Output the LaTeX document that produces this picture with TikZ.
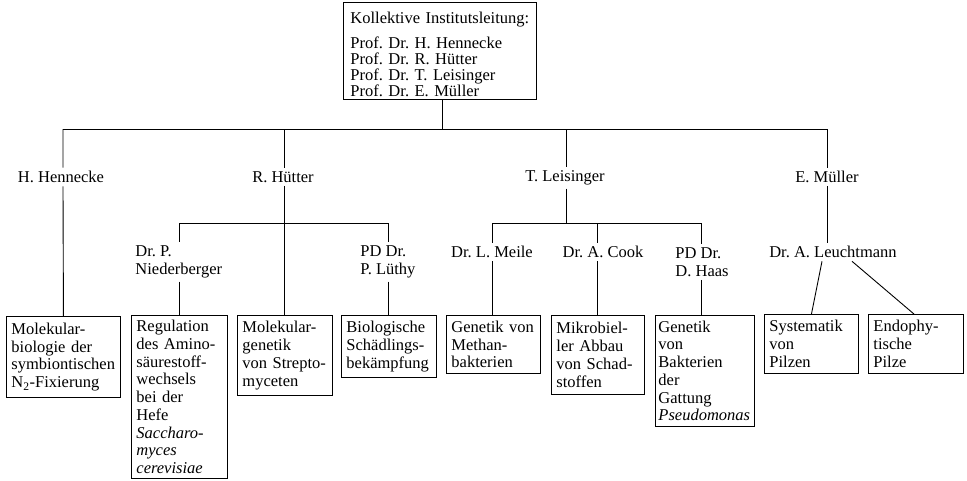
\documentclass[tikz,border=0pt]{standalone}
\usepackage{fontspec}
\setmainfont{Liberation Serif}
\frenchspacing
\begin{document}
\begin{tikzpicture}[x=1pt,y=-1pt,line width=0.9pt,
  every node/.style={font=\fontsize{16.5}{17.75}\selectfont},
  box/.style={draw,anchor=north west,inner xsep=5pt,inner ysep=3pt,align=left,
    execute at begin node={\frenchspacing\hyphenpenalty=10000\exhyphenpenalty=10000}},
  lbl/.style={inner sep=3pt,execute at begin node={\frenchspacing}},
  lbll/.style={inner sep=3pt,align=left,anchor=west,execute at begin node={\frenchspacing}}]
\useasboundingbox (0,0) rectangle (967,480);
% top box
\node[box,inner xsep=7pt,text width=179pt,minimum height=96pt,
  font=\fontsize{16.5}{16}\selectfont] (top) at (343,2)
  {\rule{0pt}{18pt}Kollektive Institutsleitung:\\[9pt]
   Prof. Dr. H. Hennecke\\
   Prof. Dr. R. Hütter\\
   Prof. Dr. T. Leisinger\\
   Prof. Dr. E. Müller};
% bottom boxes
\node[box,text width=104pt,minimum height=81pt] (b1) at (6,316)
  {Molekular-\\biologie der\\symbiontischen\\N\textsubscript{2}-Fixierung};
\node[box,text width=86pt,minimum height=163pt] (b2) at (131,315)
  {Regulation\\des Amino-\\säurestoff-\\wechsels\\bei der\\Hefe\\\textit{Saccharo-}\\\textit{myces}\\\textit{cerevisiae}};
\node[box,text width=85pt,minimum height=80pt] (b3) at (237,315)
  {Molekular-\\genetik\\von Strepto-\\myceten};
\node[box,text width=85pt,minimum height=62pt] (b4) at (341,315)
  {Biologische\\Schädlings-\\bekämpfung};
\node[box,text width=84pt,minimum height=58pt] (b5) at (446,315)
  {Genetik von\\Methan-\\bakterien};
\node[box,text width=83pt,minimum height=79pt] (b6) at (551,315)
  {Mikrobiel-\\ler Abbau\\von Schad-\\stoffen};
\node[box,inner xsep=3pt,text width=93pt,minimum height=111pt] (b7) at (655,315)
  {Genetik\\von\\Bakterien\\der\\Gattung\\\textit{Pseudomonas}};
\node[box,text width=84pt,minimum height=59pt] (b8) at (764,314)
  {Systematik\\von\\Pilzen};
\node[box,text width=85pt,minimum height=59pt] (b9) at (868,314)
  {Endophy-\\tische\\Pilze};
% labels
\node[lbl] (hen) at (61,177) {H. Hennecke};
\node[lbl] (hue) at (283,177) {R. Hütter};
\node[lbl] (lei) at (565,178) {T. Leisinger};
\node[lbl] (mue) at (827,177) {E. Müller};
\node[lbll] (nie) at (132,262) {Dr. P.\\Niederberger};
\node[lbll] (lue) at (357,262) {PD Dr.\\P. Lüthy};
\node[lbl] (mei) at (492,252) {Dr. L. Meile};
\node[lbl] (cook) at (603,252) {Dr. A. Cook};
\node[lbll] (haas) at (672,262) {PD Dr.\\D. Haas};
\node[lbl] (leu) at (833,252) {Dr. A. Leuchtmann};
% junctions
\coordinate (j0) at (442,129);
\coordinate (jh) at (63,129);
\coordinate (jhu) at (284,129);
\coordinate (jl) at (566,129);
\coordinate (jm) at (827,129);
\coordinate (jls) at (566,223);
\coordinate (sn) at (179,223);
\coordinate (sl) at (388,223);
\coordinate (sm) at (492,223);
\coordinate (sc) at (597,223);
\coordinate (sh) at (701,223);
% connectors
\draw (j0 |- top.south) -- (j0);
\draw (jh) -- (jm);
\draw (jh) -- (jh |- hen.north) (jh |- hen.south) -- (b1.north);
\draw (jhu) -- (jhu |- hue.north) (jhu |- hue.south) -- (jhu |- b3.north);
\draw (sn) -- (sl);
\draw (sn) -- (sn |- nie.north) (sn |- nie.south) -- (sn |- b2.north);
\draw (sl) -- (sl |- lue.north) (sl |- lue.south) -- (sl |- b4.north);
\draw (jl) -- (jl |- lei.north) (jl |- lei.south) -- (jls);
\draw (sm) -- (sh);
\draw (sm) -- (sm |- mei.north) (sm |- mei.south) -- (sm |- b5.north);
\draw (sc) -- (sc |- cook.north) (sc |- cook.south) -- (sc |- b6.north);
\draw (sh) -- (sh |- haas.north) (sh |- haas.south) -- (sh |- b7.north);
\draw (jm) -- (jm |- mue.north) (jm |- mue.south) -- (jm |- leu.north);
\draw ([xshift=-11pt]leu.south) -- (b8.north);
\draw ([xshift=19pt]leu.south) -- ([xshift=-2pt]b9.north);
\end{tikzpicture}
\end{document}
